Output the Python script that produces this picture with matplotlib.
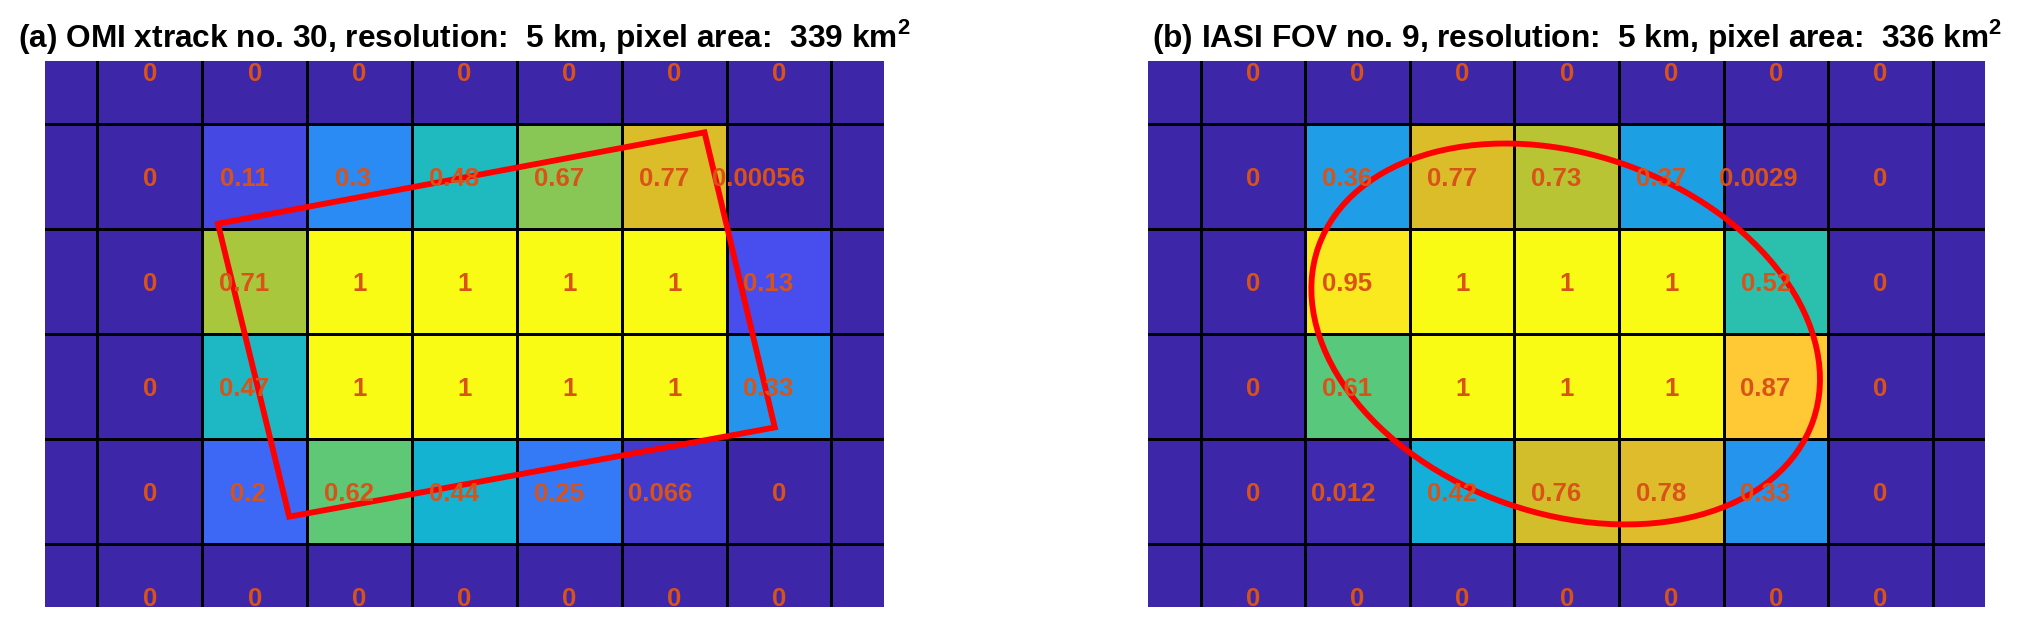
import numpy as np
import matplotlib
matplotlib.use('Agg')
from matplotlib import pyplot as plt
from matplotlib.colors import LinearSegmentedColormap
from matplotlib.patches import Ellipse, Polygon

plt.rcParams['font.family'] = ['Liberation Sans', 'DejaVu Sans']
plt.rcParams['mathtext.fontset'] = 'custom'
plt.rcParams['mathtext.rm'] = 'Liberation Sans:bold'
plt.rcParams['mathtext.bf'] = 'Liberation Sans:bold'

# overlap weights per grid cell, rows top -> bottom, columns left -> right
omi_weights = [
    [0, 0, 0, 0, 0, 0, 0],
    [0, 0.11, 0.3, 0.48, 0.67, 0.77, 0.00056],
    [0, 0.71, 1, 1, 1, 1, 0.13],
    [0, 0.47, 1, 1, 1, 1, 0.33],
    [0, 0.2, 0.62, 0.44, 0.25, 0.066, 0],
    [0, 0, 0, 0, 0, 0, 0],
]
iasi_weights = [
    [0, 0, 0, 0, 0, 0, 0],
    [0, 0.36, 0.77, 0.73, 0.37, 0.0029, 0],
    [0, 0.95, 1, 1, 1, 0.52, 0],
    [0, 0.61, 1, 1, 1, 0.87, 0],
    [0, 0.012, 0.42, 0.76, 0.78, 0.33, 0],
    [0, 0, 0, 0, 0, 0, 0],
]
omi_title = '(a) OMI xtrack no. 30, resolution:  5 km, pixel area:  339 km$^2$'
iasi_title = '(b) IASI FOV no. 9, resolution:  5 km, pixel area:  336 km$^2$'

# footprints in grid-cell units (x = column, y = row)
omi_corner_x = [5.29, 0.65, 1.33, 5.96]
omi_corner_y = [0.58, 1.45, 4.24, 3.39]
iasi_center = (2.99, 2.5)
iasi_width = 5.01
iasi_height = 3.42
iasi_angle = 19.3

# parula-like colormap
parula = LinearSegmentedColormap.from_list('parula', [
    (0.0, (0.2422, 0.1504, 0.6603)),
    (1 / 7, (0.2810, 0.3228, 0.9579)),
    (2 / 7, (0.1786, 0.5289, 0.9682)),
    (3 / 7, (0.0689, 0.6948, 0.8394)),
    (4 / 7, (0.2161, 0.7843, 0.5923)),
    (5 / 7, (0.6720, 0.7793, 0.2227)),
    (0.77, (0.8550, 0.7350, 0.1600)),
    (6 / 7, (0.9970, 0.7659, 0.2199)),
    (1.0, (0.9769, 0.9839, 0.0805)),
])


def draw_panel(ax, weights, title, title_x=0.5):
    w = np.array(weights, dtype=float)
    grid = np.pad(w, ((0, 0), (1, 1)))  # empty column at each side
    nrow, ncol = grid.shape
    xe = np.arange(ncol + 1) - 1.5
    ye = np.arange(nrow + 1) - 0.5
    ax.pcolormesh(xe, ye, grid, cmap=parula, vmin=0, vmax=1,
                  edgecolors='k', linewidth=0.9)
    for i in range(w.shape[0]):
        for j in range(w.shape[1]):
            s = '%.2g' % w[i, j]
            ax.text(j - 0.033 * (len(s) - 1), i, s, ha='center',
                    va='center_baseline', color='#D95319',
                    fontsize=18.5, fontweight='bold')
    ax.set_xlim(-1, ncol - 2)
    ax.set_ylim(nrow - 0.9, -0.1)
    ax.axis('off')
    ax.set_title(title, fontsize=22.8, fontweight='bold', pad=10, x=title_x)


fig = plt.figure(figsize=(20.23, 6.26), dpi=100)
ax1 = fig.add_axes([0.0222, 0.0304, 0.4147, 0.8722])
ax2 = fig.add_axes([0.5676, 0.0304, 0.4137, 0.8722])

draw_panel(ax1, omi_weights, omi_title)
ax1.add_patch(Polygon(np.column_stack([omi_corner_x, omi_corner_y]),
                      closed=True, fill=False, edgecolor='red', lw=4.2))

draw_panel(ax2, iasi_weights, iasi_title, title_x=0.513)
ax2.add_patch(Ellipse(iasi_center, iasi_width, iasi_height, angle=iasi_angle,
                      fill=False, edgecolor='red', lw=4.2))

fig.savefig('out.png', dpi=100)
